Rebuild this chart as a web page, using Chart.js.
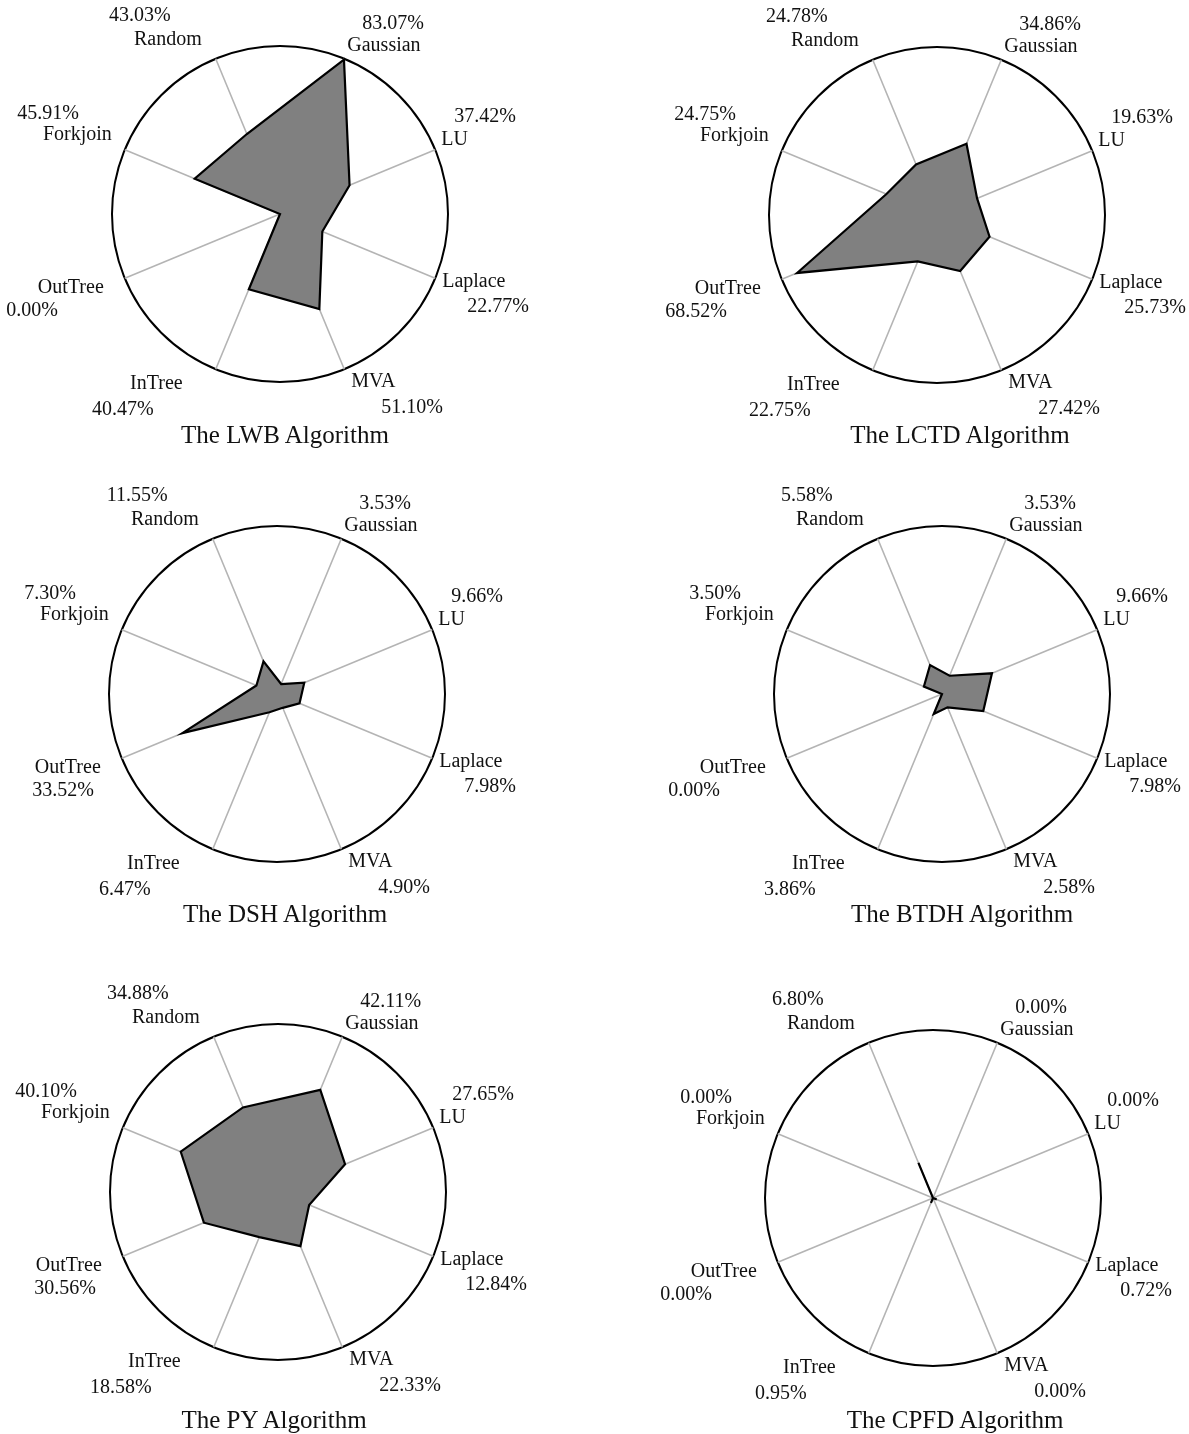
<!DOCTYPE html>
<html>
<head>
<meta charset="utf-8">
<script src="https://cdn.jsdelivr.net/npm/chart.js@4.4.0/dist/chart.umd.min.js"></script>
<style>
body { margin: 0; background: #fff; }
#page { position: relative; width: 1189px; height: 1434px; overflow: hidden; }
#page canvas { position: absolute; }
.title {
    position: absolute;
    font: 25px "Liberation Serif", serif;
    color: #111;
    transform: translate(-50%, -50%);
    white-space: nowrap;
}
</style>
</head>
<body>
<div id="page"></div>
<script>
// axis order, clockwise from the top-right spoke
const categories = ['Gaussian', 'LU', 'Laplace', 'MVA', 'InTree', 'OutTree', 'Forkjoin', 'Random'];

const lwbValues  = [83.07, 37.42, 22.77, 51.10, 40.47, 0.00, 45.91, 43.03];
const lctdValues = [34.86, 19.63, 25.73, 27.42, 22.75, 68.52, 24.75, 24.78];
const dshValues  = [3.53, 9.66, 7.98, 4.90, 6.47, 33.52, 7.30, 11.55];
const btdhValues = [3.53, 9.66, 7.98, 2.58, 3.86, 0.00, 3.50, 5.58];
const pyValues   = [42.11, 27.65, 12.84, 22.33, 18.58, 30.56, 40.10, 34.88];
const cpfdValues = [0.00, 0.00, 0.72, 0.00, 0.95, 0.00, 0.00, 6.80];

const algorithms = ['LWB', 'LCTD', 'DSH', 'BTDH', 'PY', 'CPFD'];
const allValues = [lwbValues, lctdValues, dshValues, btdhValues, pyValues, cpfdValues];
const scaleMax = [83.5, 76, 55, 30, 64, 30];

// layout: circle centre and title centre on the page
const R = 168;
const layout = [
    { cx: 280, cy: 214, tx: 285, ty: 435, outPct: -67 },
    { cx: 937, cy: 215, tx: 960, ty: 435, outPct: -55 },
    { cx: 277, cy: 694, tx: 285, ty: 914, outPct: -28 },
    { cx: 942, cy: 694, tx: 962, ty: 914, outPct: -67 },
    { cx: 278, cy: 1192, tx: 274, ty: 1420, outPct: -27 },
    { cx: 933, cy: 1198, tx: 955, ty: 1420, outPct: -66 }
];

// text offsets from each spoke end: name line and percentage line
const labelOffsets = [
    { align: 'left',  name: [3, -13],   pct: [18, -35] },
    { align: 'left',  name: [6, -10],   pct: [19, -33] },
    { align: 'left',  name: [7, 3],     pct: [32, 28] },
    { align: 'left',  name: [7, 13],    pct: [37, 39] },
    { align: 'right', name: [-33, 15],  pct: [-62, 41] },
    { align: 'right', name: [-21, 9],   pct: [null, 32] },
    { align: 'right', name: [-13, -15], pct: [-46, -36] },
    { align: 'right', name: [-14, -19], pct: [-45, -43] }
];

const axisText = {
    id: 'axisText',
    afterDraw(chart, args, opts) {
        const scale = chart.scales.r;
        const ctx = chart.ctx;
        const vals = chart.data.datasets[0].data;
        ctx.save();
        ctx.fillStyle = '#111';
        ctx.font = '20px "Liberation Serif", serif';
        ctx.textBaseline = 'middle';
        categories.forEach((cat, i) => {
            const p = scale.getPointPosition(i, scale.drawingArea);
            const o = labelOffsets[i];
            const px = o.pct[0] === null ? opts.outPct : o.pct[0];
            ctx.textAlign = o.align;
            ctx.fillText(cat, p.x + o.name[0], p.y + o.name[1]);
            ctx.fillText(vals[i].toFixed(2) + '%', p.x + px, p.y + o.pct[1]);
        });
        ctx.restore();
    }
};

const page = document.getElementById('page');
const cellW = 594, cellH = 478;

algorithms.forEach((name, k) => {
    const col = k % 2, row = Math.floor(k / 2);
    const left = col === 0 ? 0 : 595;
    const top = row * cellH;
    const L = layout[k];

    const canvas = document.createElement('canvas');
    canvas.width = cellW;
    canvas.height = cellH;
    canvas.style.left = left + 'px';
    canvas.style.top = top + 'px';
    page.appendChild(canvas);

    const title = document.createElement('div');
    title.className = 'title';
    title.textContent = 'The ' + name + ' Algorithm';
    title.style.left = L.tx + 'px';
    title.style.top = L.ty + 'px';
    page.appendChild(title);

    const cx = L.cx - left, cy = L.cy - top;

    new Chart(canvas, {
        type: 'radar',
        data: {
            labels: categories,
            datasets: [{
                data: allValues[k],
                backgroundColor: '#808080',
                borderColor: '#000',
                borderWidth: 2.2,
                pointRadius: 0,
                fill: true
            }]
        },
        options: {
            responsive: false,
            animation: false,
            layout: {
                padding: {
                    left: cx - R,
                    right: cellW - (cx + R),
                    top: cy - R,
                    bottom: cellH - (cy + R)
                }
            },
            plugins: {
                legend: { display: false },
                tooltip: { enabled: false },
                axisText: { outPct: L.outPct }
            },
            scales: {
                r: {
                    min: 0,
                    max: scaleMax[k],
                    startAngle: 22.5,
                    z: 1,
                    ticks: { display: false, stepSize: scaleMax[k] },
                    grid: { circular: true, color: '#000', lineWidth: 2 },
                    angleLines: { color: '#b4b4b4', lineWidth: 1.6 },
                    pointLabels: { display: false }
                }
            }
        },
        plugins: [axisText]
    });
});
</script>
</body>
</html>
